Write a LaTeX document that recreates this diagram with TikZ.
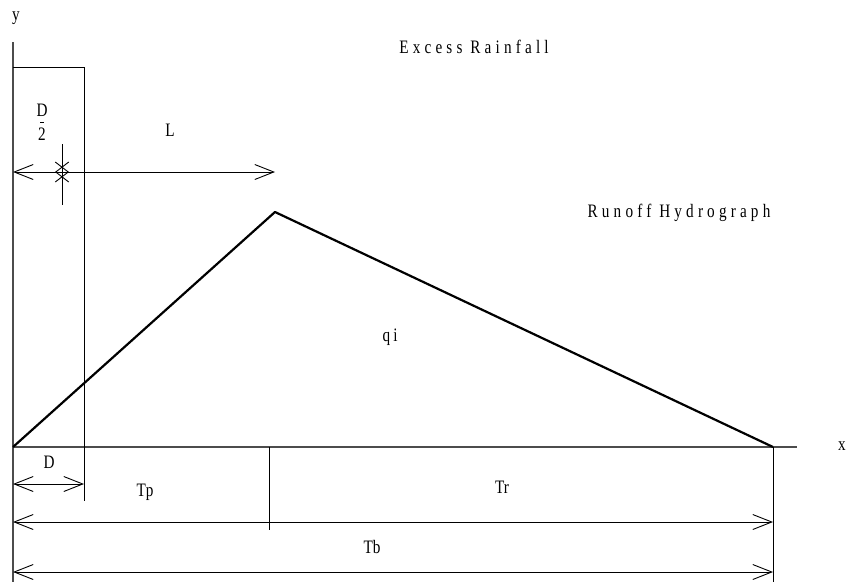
\documentclass[tikz,border=0pt]{standalone}
\usepackage{fontspec}
\setmainfont{Liberation Serif}
\newfontfamily\narrowfont[FakeStretch=0.8]{Liberation Serif}
\newfontfamily\spacedfont[FakeStretch=0.8,LetterSpace=22]{Liberation Serif}
\usetikzlibrary{arrows.meta}
\begin{document}
\begin{tikzpicture}[x=1pt,y=-1pt,
  axisline/.style={draw=black!70, line width=1.3pt},
  thinline/.style={draw=black, line width=0.9pt},
  barb/.tip={Straight Barb[length=19pt,width=15pt,line width=0.9pt]},
  smallbarb/.tip={Straight Barb[length=13pt,width=20pt,line width=0.9pt]},
  dim/.style={thinline, barb-barb},
  hydro/.style={draw=black, line width=2.2pt, line join=round},
  lbl/.style={font=\narrowfont\fontsize{19}{22}\selectfont, inner sep=0pt},
  slbl/.style={font=\spacedfont\fontsize{19}{22}\selectfont, inner sep=0pt}]
\useasboundingbox (0,0) rectangle (846,582);
% key points
\coordinate (ytop) at (13,42);
\coordinate (ybot) at (13,582);
\coordinate (O) at (13,447);
\coordinate (xend) at (797,447);
\coordinate (P) at (275,212);
\coordinate (E) at (773,447);
\coordinate (Dtop) at (84,67);
\coordinate (Dbot) at (84,501);
\coordinate (rtop) at (13,67);
\coordinate (Tpt) at (269,447);
\coordinate (Tpb) at (269,530);
\coordinate (Ebot) at (773,582);
\coordinate (tickt) at (62,144);
\coordinate (tickb) at (62,205);
\coordinate (aL0) at (13,172);
\coordinate (aL1) at (69,172);
\coordinate (aL2) at (55,172);
\coordinate (aL3) at (275,172);
\coordinate (aD0) at (13,484);
\coordinate (aD1) at (84,484);
\coordinate (aP0) at (13,522);
\coordinate (aP1) at (773,522);
\coordinate (aB0) at (13,572);
\coordinate (aB1) at (773,572);
% axes
\draw[axisline] (ytop) -- (ybot);
\draw[axisline] (O) -- (xend);
% rainfall block
\draw[thinline] (rtop) -- (Dtop) -- (Dbot);
\draw[thinline] (tickt) -- (tickb);
\draw[thinline] (Tpt) -- (Tpb);
\draw[thinline] (E) -- (Ebot);
% hydrograph
\draw[hydro] (O) -- (P) -- (E);
% dimension arrows
\draw[thinline, barb-smallbarb] (aL0) -- (aL1);
\draw[thinline, smallbarb-barb] (aL2) -- (aL3);
\draw[dim] (aD0) -- (aD1);
\draw[dim] (aP0) -- (aP1);
\draw[dim] (aB0) -- (aB1);
% labels
\node[lbl] (ylab) at (16,18) {y};
\node[lbl] (xlab) at (842,446) {x};
\node[slbl] (rain) at (474,47) {Excess Rainfall};
\node[slbl] (runoff) at (679,213) {Runoff Hydrograph};
\node[lbl] (Dn) at (42,110) {D};
\draw[thinline, line width=0.6pt] (40,122) -- (44,122);
\node[lbl] (twon) at (42,134) {2};
\node[lbl] (Ln) at (170,130) {L};
\node[lbl] (qin) at (390,337) {q\,i};
\node[lbl] (Dlab) at (49,462) {D};
\node[lbl] (Tpn) at (145,492) {Tp};
\node[lbl] (Trn) at (502,487) {Tr};
\node[lbl] (Tbn) at (372,547) {Tb};
\end{tikzpicture}
\end{document}
